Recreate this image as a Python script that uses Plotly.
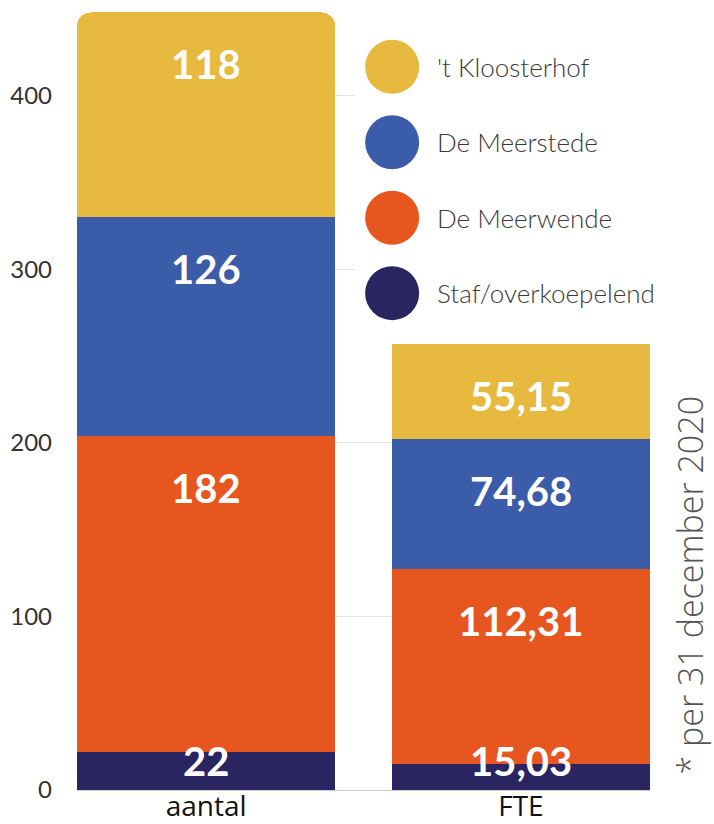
import plotly.graph_objects as go

# ---- data ----
categories = ["aantal", "FTE"]
series_names = ["Staf/overkoepelend", "De Meerwende", "De Meerstede", "'t Kloosterhof"]
staf = [22, 15.03]
meerwende = [182, 112.31]
meerstede = [126, 74.68]
kloosterhof = [118, 55.15]
y_ticks = [0, 100, 200, 300, 400]
note_text = "* per 31 december 2020"

series_values = [staf, meerwende, meerstede, kloosterhof]
colors = ["#2A2560", "#E8561F", "#3B5CA9", "#E8B93F"]

FONT = "Lato"

fig = go.Figure()

# aantal on x/y (rounded top), FTE on x2/y (square top)
for name, vals, col in zip(series_names, series_values, colors):
    fig.add_trace(go.Bar(
        x=categories, y=[vals[0], None], name=name, marker=dict(color=col, cornerradius=14, line=dict(width=0)),
        width=0.82, xaxis="x", yaxis="y", hoverinfo="skip", showlegend=False))
for name, vals, col in zip(series_names, series_values, colors):
    fig.add_trace(go.Bar(
        x=categories, y=[None, vals[1]], name=name, marker=dict(color=col, line=dict(width=0)),
        width=0.82, xaxis="x2", yaxis="y", hoverinfo="skip", showlegend=False))

def fmt(v, j):
    return f"{v:d}" if j == 0 else f"{v:.2f}".replace(".", ",")

annotations = []
for j in range(len(categories)):
    base = 0
    for vals in series_values:
        v = vals[j]
        top = base + v
        if v < 40:
            yy, anchor, shift = base, "bottom", 3
        else:
            yy, anchor, shift = top, "middle", -52
        annotations.append(dict(
            x=j, y=yy, xref="x", yref="y", text=fmt(v, j), showarrow=False,
            yanchor=anchor, xanchor="center", yshift=shift,
            font=dict(family=FONT, size=40, color="white", weight=700)))
        base = top

# custom legend (large circles) on a white panel that hides the gridlines
shapes = [dict(type="rect", xref="paper", yref="paper", x0=0.485, x1=1.0, y0=0.58, y1=1.0,
               fillcolor="white", line=dict(width=0), layer="above")]
legend_order = list(range(len(series_names)))[::-1]
for k, i in enumerate(legend_order):
    yp = 0.926 - k * 0.0966
    shapes.append(dict(type="circle", xref="paper", yref="paper", xsizemode="pixel", ysizemode="pixel",
                       xanchor=0.55, yanchor=yp, x0=-27, x1=27, y0=-27, y1=27,
                       fillcolor=colors[i], line=dict(width=0), layer="above"))
    annotations.append(dict(x=0.625, y=yp, xref="paper", yref="paper", text=series_names[i],
                            showarrow=False, xanchor="left", yanchor="middle",
                            font=dict(family=FONT, size=26, color="#3a3a3a", weight=300)))

annotations.append(dict(x=1.07, y=0.262, xref="paper", yref="paper", text=note_text, textangle=-90,
                        showarrow=False, xanchor="center", yanchor="middle",
                        font=dict(family="Open Sans", size=34, color="#555555", weight=300)))

fig.update_layout(
    width=714, height=824,
    margin=dict(l=77, r=64, t=9, b=34),
    barmode="stack", showlegend=False,
    plot_bgcolor="white", paper_bgcolor="white",
    xaxis=dict(type="category", categoryorder="array", categoryarray=categories,
               range=[-0.41, 1.41], showgrid=False, zeroline=False, showline=False, ticks="",
               automargin=False, ticklabelstandoff=-3,
               tickfont=dict(family="Open Sans", size=28, color="#111111", weight=500)),
    xaxis2=dict(type="category", categoryorder="array", categoryarray=categories,
                overlaying="x", matches="x", visible=False, anchor="y"),
    yaxis=dict(range=[0, 450], tickvals=y_ticks, showgrid=True, gridcolor="#e2e2e2", gridwidth=1,
               zeroline=True, zerolinecolor="#cccccc", zerolinewidth=1, showline=False,
               automargin=False,
               ticklabelstandoff=24, tickfont=dict(family=FONT, size=24, color="#333333")),
    annotations=annotations, shapes=shapes,
)

fig.write_html("out.html", config={"displayModeBar": False},
               post_script="document.body.style.margin='0px';")
